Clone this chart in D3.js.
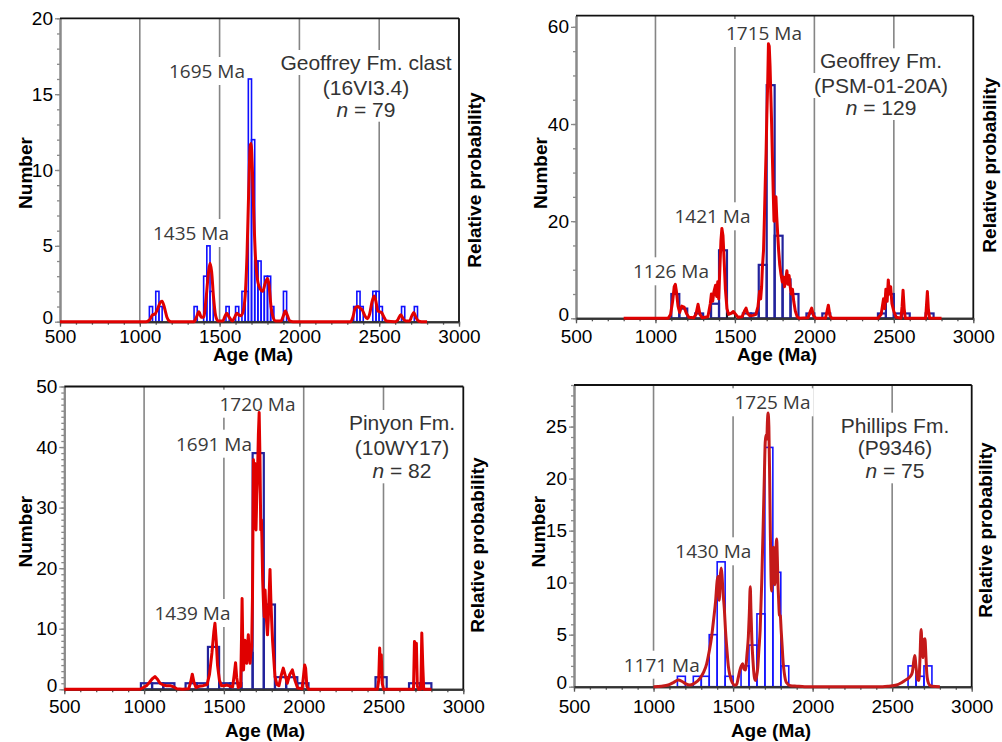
<!DOCTYPE html>
<html><head><meta charset="utf-8">
<script src="https://cdn.jsdelivr.net/npm/d3@7"></script>
<style>body{margin:0;background:#fff}svg{display:block}</style>
</head><body>
<svg id="chart" width="1002" height="742"></svg>
<script>
// ---------- shared ----------
const xTicks = [500, 1000, 1500, 2000, 2500, 3000];
const gridAges = [1000, 1500, 2000, 2500];

// ---------- panel 1 : Geoffrey Fm. clast (16VI3.4) ----------
const p1BinStart = [1060,1100,1120,1340,1400,1420,1440,1540,1600,1640,1660,1680,1700,1720,1740,1760,1780,1800,1820,1900,2340,2360,2380,2460,2480,2500,2640,2720];
const p1Count    = [1,2,1,1,3,5,2,1,1,2,2,16,12,4,4,2,3,3,1,2,1,2,1,2,2,1,1,1];
const p1CurveAge = [500,1040,1060,1080,1095,1110,1130,1140,1155,1170,1185,1200,1340,1355,1370,1385,1400,1415,1430,1440,1450,1462,1475,1490,1520,1535,1545,1560,1580,1595,1607,1620,1635,1650,1662,1672,1682,1692,1697,1705,1715,1725,1740,1755,1770,1785,1800,1810,1822,1835,1850,1885,1900,1912,1925,1940,1960,2320,2335,2350,2365,2380,2395,2410,2425,2440,2455,2468,2478,2492,2505,2515,2530,2545,2600,2615,2635,2650,2665,2690,2705,2717,2730,2745,2765,2800];
const p1CurveVal = [0,0,0.1,0.45,0.5,0.8,1.3,1.35,0.9,0.3,0.05,0,0,0.3,0.65,0.3,0.3,1.5,3.2,3.85,3.3,1.6,0.4,0.05,0.05,0.4,0.55,0.3,0.05,0.3,0.55,0.45,0.4,0.8,2.0,4.5,8.5,11.6,11.75,10.2,6.8,4.2,2.6,2.15,2.0,2.5,2.85,2.4,1.0,0.3,0.05,0.05,0.4,0.7,0.4,0.05,0,0,0.3,0.9,1.0,0.9,0.75,0.4,0.2,0.5,1.3,1.7,1.4,0.7,0.65,0.6,0.3,0.05,0,0.1,0.45,0.2,0.05,0.05,0.4,0.6,0.3,0.05,0,0];
const p1YTicks = [0, 5, 10, 15, 20];
const p1PeakLabels = ["1695 Ma", "1435 Ma"];
const p1Title = ["Geoffrey Fm. clast", "(16VI3.4)", "79"];

// ---------- panel 2 : Geoffrey Fm. (PSM-01-20A) ----------
const p2BinStart = [1100,1150,1250,1350,1400,1550,1600,1650,1700,1750,1800,1850,1950,2050,2400,2450,2500,2550,2700];
const p2Count    = [5,2,1,3,14,1,1,11,48,17,8,5,1,1,1,5,1,1,1];
const p2BlackBinStart = [1450];
const p2BlackCount = [1];
const p2CurveAge = [800,1080,1095,1108,1118,1125,1132,1142,1152,1165,1180,1195,1210,1240,1255,1268,1280,1295,1330,1345,1352,1360,1368,1378,1385,1392,1398,1405,1412,1418,1425,1432,1440,1450,1460,1475,1490,1505,1520,1545,1560,1570,1580,1595,1615,1632,1645,1655,1662,1668,1673,1680,1685,1691,1696,1701,1706,1711,1716,1721,1726,1731,1736,1741,1746,1752,1758,1763,1768,1775,1782,1790,1798,1805,1812,1820,1827,1834,1841,1848,1855,1862,1870,1880,1892,1905,1960,1975,1983,1995,2010,2070,2080,2088,2098,2110,2400,2420,2435,2442,2450,2458,2465,2472,2480,2488,2500,2515,2545,2552,2558,2565,2572,2700,2706,2711,2717,2725,2800];
const p2CurveVal = [0,0,0.8,3.5,6.5,7.0,5.5,2.5,1.2,2.5,2.3,1.0,0.2,0.1,0.8,2.9,0.8,0.1,0.3,3.0,5.0,3.5,5.5,6.8,4.5,7.5,4,10,16,18.5,17,12,6,2,0.8,1.0,1.4,0.8,0.2,0.3,1.5,2.1,1.0,0.5,0.6,0.8,2.4,5.5,4.0,6.5,10.5,14,20,28,34,42,48,56.5,56,52,46,40,33,26,20,21,25,21,18,14,11,9,7.5,8.5,6.5,8,9.8,7,8.8,6.5,5,6,3.5,1.5,0.3,0,0.1,1.5,2.1,0.5,0,0,1.5,2.7,0.5,0,0,0.8,4,2,6,3.5,7.9,5,6.5,3,1.4,0.2,0,2.5,5.8,2,0,0,3,5.5,2,0,0];
const p2YTicks = [0, 20, 40, 60];
const p2PeakLabels = ["1715 Ma", "1421 Ma", "1126 Ma"];
const p2Title = ["Geoffrey Fm.", "(PSM-01-20A)", "129"];

// ---------- panel 3 : Pinyon Fm. (10WY17) ----------
const p3BinStart = [980,1050,1120,1260,1330,1400,1470,1540,1610,1680,1750,1820,1890,1960,2450,2660,2730];
const p3Count    = [1,1,1,1,1,7,1,1,6,39,14,2,2,1,2,1,1];
const p3CurveAge = [500,975,995,1015,1035,1050,1068,1085,1100,1120,1140,1162,1185,1205,1240,1280,1292,1302,1312,1325,1345,1370,1395,1410,1425,1437,1444,1452,1460,1472,1485,1500,1520,1540,1555,1565,1573,1580,1590,1605,1610,1614,1619,1623,1628,1632,1637,1643,1648,1653,1658,1664,1669,1674,1679,1685,1690,1695,1701,1706,1710,1716,1721,1726,1731,1735,1738,1743,1748,1753,1758,1763,1768,1773,1778,1784,1789,1794,1799,1805,1810,1820,1832,1845,1858,1872,1885,1897,1912,1929,1945,1962,1990,2000,2006,2012,2020,2030,2462,2470,2476,2481,2486,2492,2500,2688,2694,2700,2706,2712,2720,2734,2740,2746,2752,2800];
const p3CurveVal = [0,0,0.3,0.6,1.2,1.7,2.1,1.6,1.0,0.7,0.6,0.6,0.4,0.1,0,0.1,1.2,2.5,1.2,0.3,0.5,0.6,0.8,2.5,6,9.5,10.9,8,4,1.5,0.6,0.6,0.7,0.5,0.4,2.5,4.4,2,0.3,0.5,8,15,6,3.2,6,8.1,4.5,4.3,7,9,6,4.3,6,7,15,37.9,34,37.3,26.3,32,34.6,42,45.7,38,26.3,28,25.2,18,14.2,12,16.4,13,10.9,9,11.5,16,19.8,15,11.5,8,6,2.1,0.8,0.6,2.2,3.5,2.2,1.0,2.4,3.2,1.5,0.2,0.1,2.5,4.0,3.5,0.5,0,0,1.5,6.8,3.0,5.7,1.0,0,0,7.9,6.0,7.6,0.5,0,0,9.3,4,0,0];
const p3YTicks = [0, 10, 20, 30, 40, 50];
const p3PeakLabels = ["1720 Ma", "1691 Ma", "1439 Ma"];
const p3Title = ["Pinyon Fm.", "(10WY17)", "82"];

// ---------- panel 4 : Phillips Fm. (P9346) ----------
const p4BinStart = [1150,1250,1300,1350,1400,1450,1550,1600,1650,1700,1750,1800,2600,2650,2700];
const p4Count    = [1,1,1,5,12,1,2,4,7,23,11,2,2,1,2];
const p4CurveAge = [1000,1050,1093,1125,1156,1180,1200,1229,1260,1292,1315,1334,1350,1365,1378,1390,1400,1407,1413,1419,1425,1430,1437,1445,1452,1460,1470,1480,1495,1510,1522,1533,1543,1552,1560,1568,1577,1588,1596,1602,1608,1612,1618,1625,1633,1640,1648,1655,1662,1670,1680,1690,1697,1702,1707,1712,1716,1720,1725,1730,1734,1738,1742,1746,1750,1754,1758,1762,1766,1770,1774,1778,1782,1786,1791,1797,1802,1808,1815,1822,1835,1860,1900,1950,2440,2480,2528,2555,2580,2601,2615,2627,2637,2643,2648,2653,2660,2668,2675,2682,2688,2693,2700,2706,2712,2718,2725,2735,2750,2800];
const p4CurveVal = [0,0.05,0.16,0.4,0.64,0.5,0.3,0.16,0.35,0.8,1.4,2.2,3.4,4.8,6.5,8.2,10.2,10.6,8.3,10.5,11.4,10.8,9,7.5,5.5,3.8,2,1.1,0.4,0.15,0.2,0.9,1.6,2.0,2.2,1.7,1.6,3.2,4.8,7.0,9.6,7.5,4.5,2.5,1.0,0.6,1.0,1.8,3.5,5.4,10,16,20.5,23.5,24.2,23.8,25.5,26.3,25,20,15,11,9.2,11,13,13.4,12,9.8,11,13.2,14.2,12.5,10,8.5,6.9,6.8,5.5,4,2.3,1.3,0.4,0.1,0.05,0,0,0.05,0.16,0.35,0.6,0.8,1.0,1.4,2.6,3.0,2.2,1.5,0.7,0.6,2.8,5.5,3.5,2.8,4.5,4.6,3,1.2,0.5,0.15,0.05,0];
const p4YTicks = [0, 5, 10, 15, 20, 25];
const p4PeakLabels = ["1725 Ma", "1430 Ma", "1171 Ma"];
const p4Title = ["Phillips Fm.", "(P9346)", "75"];

// ---------- layout / style (not data) ----------
const panels = [
  {x0:60, x1:459, yT:18.3, yB:321.7, yMax:20, yTicks:p1YTicks, minor:1, binW:20,
   bins:p1BinStart, counts:p1Count, ages:p1CurveAge, vals:p1CurveVal, smooth:true,
   barColor:"#0f0fff", barW:1.6, curveColor:"#e00000",
   labels:p1PeakLabels, labelPos:[[207,78],[191,240]],
   title:p1Title, titleX:366, titleY:[70,94.5,116.7],
   numX:31.7, numY:173, relX:480.6, relY:180, ageX:253, ageY:361, tickBase:343},
  {x0:576, x1:973.3, yT:15.7, yB:318.3, yMax:62.3, yTicks:p2YTicks, minor:5, binW:50,
   bins:p2BinStart, counts:p2Count, black:[p2BlackBinStart,p2BlackCount], ages:p2CurveAge, vals:p2CurveVal, smooth:false,
   barColor:"#22229c", barW:2.2, curveColor:"#e00000",
   labels:p2PeakLabels, labelPos:[[764,40],[712.5,223.3],[671,278.3]],
   title:p2Title, titleX:881, titleY:[68.3,93,115],
   numX:546.7, numY:173, relX:995.6, relY:165, ageX:777, ageY:361, tickBase:343},
  {x0:64.3, x1:463.3, yT:386.5, yB:689.3, yMax:50, yTicks:p3YTicks, minor:1, binW:70,
   bins:p3BinStart, counts:p3Count, ages:p3CurveAge, vals:p3CurveVal, smooth:false,
   barColor:"#22229c", barW:2.2, curveColor:"#e00000",
   labels:p3PeakLabels, labelPos:[[257.5,410.7],[214,450.7],[192.5,620]],
   title:p3Title, titleX:402, titleY:[430,455,478.3],
   numX:31.7, numY:531.7, relX:484, relY:545, ageX:265, ageY:736.5, tickBase:713},
  {x0:574, x1:971.7, yT:385, yB:686.7, yMax:29, yTicks:p4YTicks, minor:1, binW:50,
   bins:p4BinStart, counts:p4Count, ages:p4CurveAge, vals:p4CurveVal, smooth:true,
   barColor:"#1414ff", barW:1.6, curveColor:"#c41a1a",
   labels:p4PeakLabels, labelPos:[[772.5,409.3],[713.3,558.3],[661.7,671.7]],
   title:p4Title, titleX:895, titleY:[432.7,455,478.3],
   numX:545, numY:531.7, relX:992, relY:530, ageX:771, ageY:736.5, tickBase:713}
];

const svg = d3.select("#chart");
svg.append("rect").attr("width",1002).attr("height",742).attr("fill","#fff");

function whiteBox(layer, textSel, pad) {
  const b = textSel.node().getBBox();
  layer.append("rect").attr("x", b.x - pad).attr("y", b.y - 1)
    .attr("width", b.width + 2*pad).attr("height", b.height + 2).attr("fill", "#fff");
}

panels.forEach(p => {
  const x = d3.scaleLinear().domain([500, 3000]).range([p.x0, p.x1]);
  const y = d3.scaleLinear().domain([0, p.yMax]).range([p.yB, p.yT]);
  const g = svg.append("g");

  // grid lines
  g.append("g").selectAll("line").data(gridAges).join("line")
    .attr("x1", d => x(d)).attr("x2", d => x(d))
    .attr("y1", p.yT).attr("y2", p.yB)
    .attr("stroke", "#858585").attr("stroke-width", 1.6);

  const boxLayer = g.append("g");

  // histogram
  const barData = d3.zip(p.bins, p.counts);
  g.append("g").selectAll("rect").data(barData).join("rect")
    .attr("x", d => x(d[0])).attr("width", d => x(d[0] + p.binW) - x(d[0]))
    .attr("y", d => y(d[1])).attr("height", d => y(0) - y(d[1]))
    .attr("fill", "none").attr("stroke", p.barColor).attr("stroke-width", p.barW);
  if (p.black) {
    g.append("g").selectAll("rect").data(d3.zip(p.black[0], p.black[1])).join("rect")
      .attr("x", d => x(d[0])).attr("width", d => x(d[0] + p.binW) - x(d[0]))
      .attr("y", d => y(d[1])).attr("height", d => y(0) - y(d[1]))
      .attr("fill", "none").attr("stroke", "#111").attr("stroke-width", 1.6);
  }

  // axes
  const minorVals = d3.range(0, p.yMax + 0.001, p.minor);
  const yMinor = g.append("g").attr("transform", `translate(${p.x0},0)`)
    .call(d3.axisLeft(y).tickValues(minorVals).tickSize(3).tickSizeOuter(0).tickFormat(""));
  const yMajor = g.append("g").attr("transform", `translate(${p.x0},0)`)
    .call(d3.axisLeft(y).tickValues(p.yTicks).tickSize(5).tickSizeOuter(0).tickPadding(2));
  [yMinor, yMajor].forEach(a => {
    a.select(".domain").attr("stroke", "#8a8a8a").attr("stroke-width", 2);
    a.selectAll(".tick line").attr("stroke", "#8a8a8a").attr("stroke-width", 1.3);
  });
  yMajor.selectAll("text").attr("font-family", "Liberation Sans, Arial, sans-serif")
    .attr("font-size", 19).attr("fill", "#000")
    .attr("dy", d => d === 0 ? "0.12em" : "0.32em");

  const xMinor = g.append("g").attr("transform", `translate(0,${p.yB})`)
    .call(d3.axisBottom(x).tickValues(d3.range(500, 3001, 100)).tickSize(3).tickSizeOuter(0).tickFormat(""));
  const xMajor = g.append("g").attr("transform", `translate(0,${p.yB})`)
    .call(d3.axisBottom(x).tickValues(xTicks).tickSize(5).tickSizeOuter(0).tickFormat(d3.format("d")));
  [xMinor, xMajor].forEach(a => {
    a.select(".domain").attr("stroke", "#333").attr("stroke-width", 2);
    a.selectAll(".tick line").attr("stroke", "#555").attr("stroke-width", 1.3);
  });
  xMajor.selectAll("text").attr("font-family", "Liberation Sans, Arial, sans-serif")
    .attr("font-size", 19).attr("fill", "#000").attr("dy", null).attr("y", p.tickBase - p.yB);

  // frame top / right
  g.append("line").attr("x1", p.x0).attr("x2", p.x1).attr("y1", p.yT).attr("y2", p.yT)
    .attr("stroke", "#111").attr("stroke-width", 1.8);
  g.append("line").attr("x1", p.x1).attr("x2", p.x1).attr("y1", p.yT).attr("y2", p.yB)
    .attr("stroke", "#111").attr("stroke-width", 1.8);

  // probability curve
  const line = d3.line().x(d => x(d[0])).y(d => y(d[1]))
    .curve(p.smooth ? d3.curveMonotoneX : d3.curveLinear);
  g.append("path").datum(d3.zip(p.ages, p.vals)).attr("d", line)
    .attr("fill", "none").attr("stroke", p.curveColor).attr("stroke-width", 3)
    .attr("stroke-linejoin", "round");

  // peak labels
  p.labels.forEach((t, i) => {
    const tx = g.append("text").attr("x", p.labelPos[i][0]).attr("y", p.labelPos[i][1])
      .attr("text-anchor", "middle").attr("font-family", "Open Sans, Noto Sans, sans-serif")
      .attr("font-size", 19).attr("fill", "#3a3a3a").text(t);
    whiteBox(boxLayer, tx, 3);
  });

  // title block
  const tf = "Liberation Sans, Arial, sans-serif";
  [0, 1].forEach(i => {
    const tx = g.append("text").attr("x", p.titleX).attr("y", p.titleY[i])
      .attr("text-anchor", "middle").attr("font-family", tf).attr("font-size", 21)
      .attr("fill", "#333").text(p.title[i]);
    whiteBox(boxLayer, tx, 4);
  });
  const nt = g.append("text").attr("x", p.titleX).attr("y", p.titleY[2])
    .attr("text-anchor", "middle").attr("font-family", tf).attr("font-size", 21).attr("fill", "#333");
  nt.append("tspan").attr("font-style", "italic").text("n");
  nt.append("tspan").text(" = " + p.title[2]);
  whiteBox(boxLayer, nt, 4);

  // axis titles
  const bf = "Liberation Sans, Arial, sans-serif";
  g.append("text").attr("transform", `translate(${p.numX},${p.numY}) rotate(-90)`)
    .attr("text-anchor", "middle").attr("font-family", bf).attr("font-weight", "bold")
    .attr("font-size", 19).attr("fill", "#000").text("Number");
  g.append("text").attr("transform", `translate(${p.relX},${p.relY}) rotate(-90)`)
    .attr("text-anchor", "middle").attr("font-family", bf).attr("font-weight", "bold")
    .attr("font-size", 19).attr("fill", "#000").text("Relative probability");
  g.append("text").attr("x", p.ageX).attr("y", p.ageY)
    .attr("text-anchor", "middle").attr("font-family", bf).attr("font-weight", "bold")
    .attr("font-size", 19).attr("fill", "#000").text("Age (Ma)");
});
</script>
</body></html>
